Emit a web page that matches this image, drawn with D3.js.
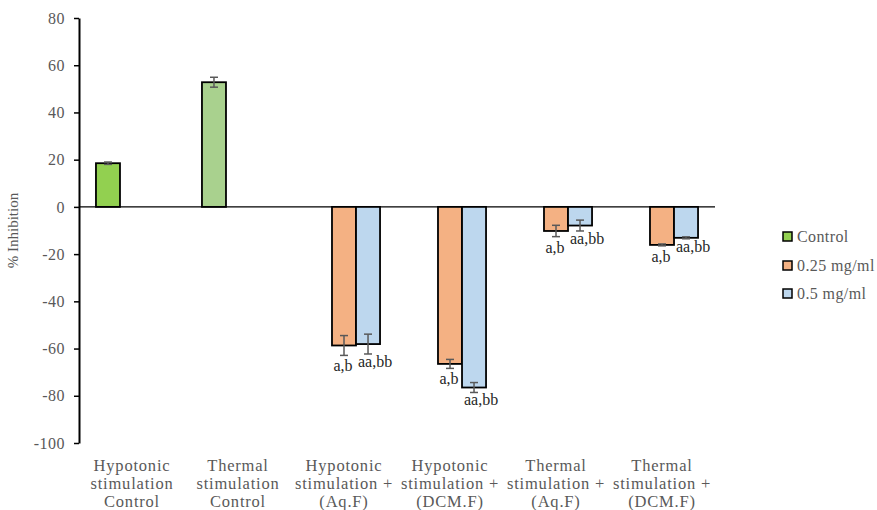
<!DOCTYPE html>
<html>
<head>
<meta charset="utf-8">
<script src="https://cdn.jsdelivr.net/npm/d3@7"></script>
<style>
  html, body { margin: 0; padding: 0; background: #fff; }
  svg { display: block; }
  text { font-family: "Liberation Serif", "Times New Roman", serif; }
</style>
</head>
<body>
<svg id="chart" width="877" height="510"></svg>
<script>
// ---- data ----
const categories = [
  ["Hypotonic", "stimulation", "Control"],
  ["Thermal", "stimulation", "Control"],
  ["Hypotonic", "stimulation +", "(Aq.F)"],
  ["Hypotonic", "stimulation +", "(DCM.F)"],
  ["Thermal", "stimulation +", "(Aq.F)"],
  ["Thermal", "stimulation +", "(DCM.F)"]
];
const seriesNames = ["Control", "0.25 mg/ml", "0.5 mg/ml"];
const controlValues = [18.5, 52.8, null, null, null, null];
const controlErrors = [0.5, 2.1, null, null, null, null];
const lowDoseValues = [null, null, -58.7, -66.5, -10.2, -16.1];
const lowDoseErrors = [null, null, 4.2, 1.9, 2.4, 0.4];
const highDoseValues = [null, null, -58.1, -76.5, -7.9, -13.1];
const highDoseErrors = [null, null, 4.2, 2.1, 2.3, 0.4];
const lowDoseLabels = ["", "", "a,b", "a,b", "a,b", "a,b"];
const highDoseLabels = ["", "", "aa,bb", "aa,bb", "aa,bb", "aa,bb"];
const yTicks = [-100, -80, -60, -40, -20, 0, 20, 40, 60, 80];
const yLabel = "% Inhibition";

// ---- style ----
const controlBarColors = ["#92D050", "#A9D18E"];
const seriesColors = ["#92D050", "#F4B183", "#BDD7EE"];
const textGray = "#595959";

(function () {
const svg = d3.select("#chart");
const mLeft = 79, mRight = 715, mTop = 18, mBottom = 443;

const x0 = d3.scaleBand()
  .domain(d3.range(categories.length))
  .range([mLeft, mRight])
  .paddingInner(0.32)
  .paddingOuter(0.16);
const x1 = d3.scaleBand()
  .domain(d3.range(seriesNames.length))
  .range([0, x0.bandwidth()]);
const y = d3.scaleLinear().domain([-100, 80]).range([mBottom, mTop]);

// zero line
svg.append("line")
  .attr("x1", mLeft).attr("x2", mRight)
  .attr("y1", y(0)).attr("y2", y(0))
  .attr("stroke", "#000").attr("stroke-width", 1.3);

// y axis
const yAxis = d3.axisLeft(y).tickValues(yTicks)
  .tickFormat(d => String(d))
  .tickSize(5).tickPadding(9).tickSizeOuter(0);
const gy = svg.append("g").attr("transform", `translate(${mLeft},0)`).call(yAxis);
gy.select(".domain").attr("stroke", "#000").attr("stroke-width", 2);
gy.selectAll(".tick line").attr("stroke", "#000").attr("stroke-width", 1.5);
gy.selectAll(".tick text")
  .attr("fill", textGray).attr("font-size", 16)
  .style("letter-spacing", "0.5px")
  .style("font-family", "'Liberation Serif', serif");

// y label
svg.append("text")
  .attr("transform", `translate(18,${(mTop + mBottom) / 2}) rotate(-90)`)
  .attr("text-anchor", "middle")
  .attr("font-size", 15)
  .attr("fill", textGray)
  .text(yLabel);

// bars
const series = [
  { vals: controlValues, errs: controlErrors, idx: 0 },
  { vals: lowDoseValues, errs: lowDoseErrors, idx: 1 },
  { vals: highDoseValues, errs: highDoseErrors, idx: 2 }
];
series.forEach(s => {
  const data = s.vals.map((v, i) => ({ i, v, e: s.errs[i] })).filter(d => d.v !== null);
  const g = svg.append("g");
  g.selectAll("rect").data(data).join("rect")
    .attr("x", d => x0(d.i) + x1(s.idx))
    .attr("width", x1.bandwidth())
    .attr("y", d => y(Math.max(0, d.v)))
    .attr("height", d => Math.abs(y(d.v) - y(0)))
    .attr("fill", d => s.idx === 0 ? controlBarColors[d.i] : seriesColors[s.idx])
    .attr("stroke", "#000").attr("stroke-width", 1.8);
  // error bars
  const eg = svg.append("g").attr("stroke", "#595959").attr("stroke-width", 1.5);
  data.forEach(d => {
    const cx = x0(d.i) + x1(s.idx) + x1.bandwidth() / 2;
    eg.append("line").attr("x1", cx).attr("x2", cx)
      .attr("y1", y(d.v + d.e)).attr("y2", y(d.v - d.e));
    [d.v + d.e, d.v - d.e].forEach(val => {
      eg.append("line").attr("x1", cx - 4).attr("x2", cx + 4)
        .attr("y1", y(val)).attr("y2", y(val));
    });
  });
});

// significance labels
const lab = svg.append("g").attr("font-size", 16).attr("fill", "#262626").attr("text-anchor", "middle");
lowDoseLabels.forEach((t, i) => {
  if (!t) return;
  const cx = x0(i) + x1(1) + x1.bandwidth() / 2 - 1;
  lab.append("text").attr("x", cx).attr("y", y(lowDoseValues[i] - lowDoseErrors[i]) + 16).text(t);
});
highDoseLabels.forEach((t, i) => {
  if (!t) return;
  const cx = x0(i) + x1(2) + x1.bandwidth() / 2 + 7;
  lab.append("text").attr("x", cx).attr("y", y(highDoseValues[i] - highDoseErrors[i]) + 13).text(t);
});

// category labels
categories.forEach((lines, i) => {
  const cx = x0(i) + x0.bandwidth() / 2;
  const t = svg.append("text")
    .attr("text-anchor", "middle")
    .attr("font-size", 16.5)
    .style("letter-spacing", "0.8px")
    .attr("fill", textGray)
    .attr("x", cx)
    .attr("y", 471);
  lines.forEach((ln, k) => {
    t.append("tspan").attr("x", cx).attr("dy", k === 0 ? 0 : 18).text(ln);
  });
});

// legend
const legend = svg.append("g").attr("transform", "translate(783,0)");
const legendY = [237, 266, 294];
seriesNames.forEach((n, k) => {
  legend.append("rect")
    .attr("x", 0).attr("y", legendY[k] - 5).attr("width", 9).attr("height", 9)
    .attr("fill", seriesColors[k]).attr("stroke", "#000").attr("stroke-width", 1.5);
  legend.append("text")
    .attr("x", 14).attr("y", legendY[k] + 5)
    .attr("font-size", 16).attr("fill", textGray)
    .style("letter-spacing", "0.4px")
    .text(n);
});
})();
</script>
</body>
</html>
